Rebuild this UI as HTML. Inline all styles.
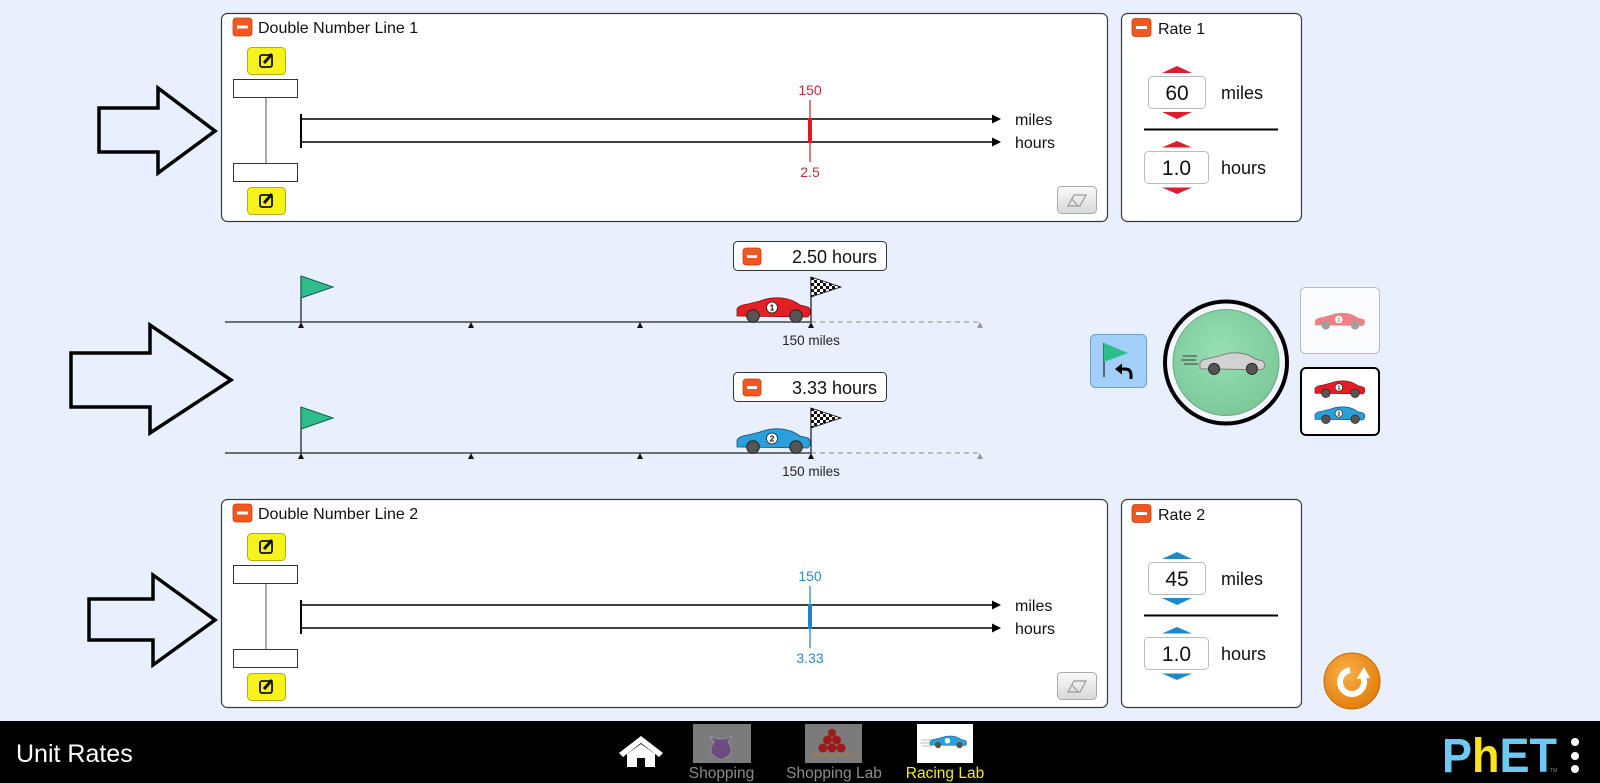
<!DOCTYPE html>
<html><head><meta charset="utf-8"><style>
html,body{margin:0;padding:0;width:1600px;height:783px;overflow:hidden;background:#e8f0fd}
svg{display:block}
text{font-family:"Liberation Sans",Arial,sans-serif}
</style></head><body>
<svg width="1600" height="783" viewBox="0 0 1600 783" xmlns="http://www.w3.org/2000/svg">
<defs>
<pattern id="chk" x="811" y="277" width="6" height="6" patternUnits="userSpaceOnUse">
<rect width="6" height="6" fill="#fff"/><rect width="3" height="3" fill="#111"/><rect x="3" y="3" width="3" height="3" fill="#111"/>
</pattern>
<radialGradient id="grn" cx="45%" cy="40%" r="60%"><stop offset="0" stop-color="#97dfb3"/><stop offset="1" stop-color="#7cc99a"/></radialGradient>
<radialGradient id="org" cx="40%" cy="35%" r="65%"><stop offset="0" stop-color="#f9b04a"/><stop offset="1" stop-color="#e47f0c"/></radialGradient>
<linearGradient id="ers" x1="0" y1="0" x2="0" y2="1"><stop offset="0" stop-color="#fafafa"/><stop offset="1" stop-color="#d8d8d8"/></linearGradient>
</defs>
<rect width="1600" height="783" fill="#e8f0fd"/>

<!-- arrows -->
<g fill="none" stroke="#000" stroke-width="3.5" stroke-linejoin="miter">
<polygon points="99,108 158,108 158,88 215,131 158,173 158,152 99,152"/>
<polygon points="71,353 150,353 150,325 231,380 150,433 150,407 71,407"/>
<polygon points="89,599 153,599 153,575 215,620 153,665 153,640 89,640"/>
</g>

<!-- DNL 1 -->
<g id="dnl1">
<rect x="221.5" y="13.5" width="886" height="208" rx="6" fill="#fff" stroke="#3a3a3a" stroke-width="1.2"/>
<rect x="233" y="18" width="19" height="18" rx="3" fill="#f1581f" stroke="#c04010" stroke-width="0.8"/><rect x="237" y="25.5" width="11" height="3" fill="#fff"/>
<text x="258" y="33" font-size="16" fill="#111">Double Number Line 1</text>
<g transform="translate(247,47)"><rect x="0.5" y="0.5" width="38" height="27" rx="4" fill="#f7f21c" stroke="#b5ae10"/><rect x="13" y="8" width="12" height="12" rx="2" fill="none" stroke="#111" stroke-width="1.8"/><line x1="17" y1="16" x2="25" y2="7" stroke="#111" stroke-width="3"/></g>
<g transform="translate(247,187)"><rect x="0.5" y="0.5" width="38" height="27" rx="4" fill="#f7f21c" stroke="#b5ae10"/><rect x="13" y="8" width="12" height="12" rx="2" fill="none" stroke="#111" stroke-width="1.8"/><line x1="17" y1="16" x2="25" y2="7" stroke="#111" stroke-width="3"/></g>
<rect x="233.5" y="79.5" width="64" height="18" fill="#fff" stroke="#333"/>
<rect x="233.5" y="163.5" width="64" height="18" fill="#fff" stroke="#333"/>
<line x1="266" y1="98" x2="266" y2="163" stroke="#555"/>
<line x1="301" y1="114" x2="301" y2="148" stroke="#000" stroke-width="2"/>
<line x1="301" y1="119" x2="993" y2="119" stroke="#000" stroke-width="1.6"/><polygon points="992,114.5 1001,119 992,123.5" fill="#000"/>
<line x1="301" y1="142" x2="993" y2="142" stroke="#000" stroke-width="1.6"/><polygon points="992,137.5 1001,142 992,146.5" fill="#000"/>
<text x="1015" y="125" font-size="16" fill="#111">miles</text>
<text x="1015" y="148" font-size="16" fill="#111">hours</text>
<line x1="810" y1="100" x2="810" y2="162" stroke="#c8323c" stroke-width="1.3"/>
<rect x="808" y="118" width="4" height="25" fill="#e8141e"/>
<text x="810" y="95" font-size="14" fill="#c0303c" text-anchor="middle">150</text>
<text x="810" y="177" font-size="14" fill="#c0303c" text-anchor="middle">2.5</text>
<rect x="1057.5" y="186.5" width="39" height="27" rx="4" fill="url(#ers)" stroke="#aaa"/>
<polygon points="1068,206 1074,195 1086,195 1080,206" fill="none" stroke="#999" stroke-width="1.2"/><line x1="1072" y1="199" x2="1078" y2="206" stroke="#999"/>
</g>

<!-- Rate 1 -->
<g>
<rect x="1121.5" y="13.5" width="180" height="208" rx="6" fill="#fff" stroke="#3a3a3a" stroke-width="1.2"/>
<rect x="1132" y="18.5" width="19" height="18" rx="3" fill="#f1581f" stroke="#c04010" stroke-width="0.8"/><rect x="1136" y="26" width="11" height="3" fill="#fff"/>
<text x="1158" y="34" font-size="16" fill="#111">Rate 1</text>
<polygon points="1162,73 1177,66 1192,73" fill="#d9202f"/>
<rect x="1148.5" y="76.5" width="57" height="32" rx="4" fill="#fff" stroke="#bbb"/>
<text x="1177" y="100" font-size="21" text-anchor="middle" fill="#111">60</text>
<polygon points="1162,112 1192,112 1177,119" fill="#d9202f"/>
<text x="1221" y="99" font-size="18" fill="#111">miles</text>
<line x1="1144" y1="129.5" x2="1278" y2="129.5" stroke="#000" stroke-width="2"/>
<polygon points="1162,147.5 1177,141 1192,147.5" fill="#d9202f"/>
<rect x="1144.5" y="151.5" width="64" height="32" rx="4" fill="#fff" stroke="#bbb"/>
<text x="1176.5" y="175" font-size="21" text-anchor="middle" fill="#111">1.0</text>
<polygon points="1162,187.5 1192,187.5 1177,194" fill="#d9202f"/>
<text x="1221" y="174" font-size="18" fill="#111">hours</text>
</g>

<!-- Race track 1 -->
<g>
<line x1="225" y1="322" x2="811" y2="322" stroke="#444" stroke-width="1.5"/>
<line x1="811" y1="322" x2="980" y2="322" stroke="#aaa" stroke-width="1.5" stroke-dasharray="5,4"/>
<g fill="#111"><polygon points="298,328 301,322 304,328"/><polygon points="468,328 471,322 474,328"/><polygon points="637,328 640,322 643,328"/><polygon points="808,328 811,322 814,328"/></g>
<polygon points="977,328 980,322 983,328" fill="#999"/>
<line x1="301" y1="276" x2="301" y2="322" stroke="#222" stroke-width="1.3"/>
<polygon points="301,276 333,287 301,298" fill="#2dbd8e" stroke="#1a5c45"/>
<rect x="733.5" y="241.5" width="153" height="29" rx="4" fill="#fff" stroke="#333"/>
<rect x="743" y="248" width="18" height="17" rx="3" fill="#f1581f" stroke="#c04010" stroke-width="0.8"/><rect x="747" y="255" width="10" height="3" fill="#fff"/>
<text x="877" y="263" font-size="18" text-anchor="end" fill="#111">2.50 hours</text>
<line x1="811" y1="277" x2="811" y2="322" stroke="#222" stroke-width="1.3"/>
<polygon points="811,277 841,287 811,297" fill="url(#chk)" stroke="#111" stroke-width="0.8"/>
<g transform="translate(737,298)">
<path d="M0,18 L0,11 Q2,7 11,6 L23,3 Q33,-1 45,0 Q55,1 63,7 L71,9 Q74,11 73,16 L71,19 Z" fill="#e31e24" stroke="#8a0f12" stroke-width="0.8"/>
<circle cx="16" cy="18" r="6.3" fill="#555" stroke="#222"/><circle cx="59" cy="18" r="6.3" fill="#555" stroke="#222"/>
<circle cx="35" cy="9.5" r="5.5" fill="#fff" stroke="#222" stroke-width="0.8"/><text x="35" y="12.5" font-size="8.5" font-weight="bold" text-anchor="middle" fill="#111">1</text>
</g>
<text x="811" y="345" font-size="13.5" text-anchor="middle" fill="#222">150 miles</text>
</g>

<!-- Race track 2 -->
<g transform="translate(0,131)">
<line x1="225" y1="322" x2="811" y2="322" stroke="#444" stroke-width="1.5"/>
<line x1="811" y1="322" x2="980" y2="322" stroke="#aaa" stroke-width="1.5" stroke-dasharray="5,4"/>
<g fill="#111"><polygon points="298,328 301,322 304,328"/><polygon points="468,328 471,322 474,328"/><polygon points="637,328 640,322 643,328"/><polygon points="808,328 811,322 814,328"/></g>
<polygon points="977,328 980,322 983,328" fill="#999"/>
<line x1="301" y1="276" x2="301" y2="322" stroke="#222" stroke-width="1.3"/>
<polygon points="301,276 333,287 301,298" fill="#2dbd8e" stroke="#1a5c45"/>
<rect x="733.5" y="241.5" width="153" height="29" rx="4" fill="#fff" stroke="#333"/>
<rect x="743" y="248" width="18" height="17" rx="3" fill="#f1581f" stroke="#c04010" stroke-width="0.8"/><rect x="747" y="255" width="10" height="3" fill="#fff"/>
<text x="877" y="263" font-size="18" text-anchor="end" fill="#111">3.33 hours</text>
<line x1="811" y1="277" x2="811" y2="322" stroke="#222" stroke-width="1.3"/>
<polygon points="811,277 841,287 811,297" fill="url(#chk)" stroke="#111" stroke-width="0.8"/>
<g transform="translate(737,298)">
<path d="M0,18 L0,11 Q2,7 11,6 L23,3 Q33,-1 45,0 Q55,1 63,7 L71,9 Q74,11 73,16 L71,19 Z" fill="#2b9fd9" stroke="#13507a" stroke-width="0.8"/>
<circle cx="16" cy="18" r="6.3" fill="#555" stroke="#222"/><circle cx="59" cy="18" r="6.3" fill="#555" stroke="#222"/>
<circle cx="35" cy="9.5" r="5.5" fill="#fff" stroke="#222" stroke-width="0.8"/><text x="35" y="12.5" font-size="8.5" font-weight="bold" text-anchor="middle" fill="#111">2</text>
</g>
<text x="811" y="345" font-size="13.5" text-anchor="middle" fill="#222">150 miles</text>
</g>

<!-- right controls -->
<rect x="1090.5" y="334.5" width="56" height="53" rx="5" fill="#a3d0fa" stroke="#6e9fcc"/>
<line x1="1104" y1="343" x2="1104" y2="377" stroke="#222" stroke-width="1.2"/>
<polygon points="1104,343 1128,353 1104,362" fill="#2dbd8e"/>
<path d="M1131,379 L1131,375 Q1131,369 1125,369 L1121,369" fill="none" stroke="#000" stroke-width="3"/>
<polygon points="1115,369 1122,363.5 1122,374.5" fill="#000"/>

<circle cx="1226" cy="362.5" r="61" fill="#f2f6fb" stroke="#000" stroke-width="4"/>
<circle cx="1226" cy="362.5" r="53" fill="url(#grn)" stroke="#6aa888"/>
<g stroke="#5b6b60" stroke-width="1.5"><line x1="1183" y1="356" x2="1197" y2="356"/><line x1="1181" y1="360" x2="1196" y2="360"/><line x1="1184" y1="364" x2="1198" y2="364"/></g>
<g transform="translate(1200,353) scale(0.88)">
<path d="M0,18 L0,11 Q2,7 11,6 L23,3 Q33,-1 45,0 Q55,1 63,7 L71,9 Q74,11 73,16 L71,19 Z" fill="#d2d2d2" stroke="#777" stroke-width="1"/>
<circle cx="16" cy="18" r="6.3" fill="#555" stroke="#222"/><circle cx="59" cy="18" r="6.3" fill="#555" stroke="#222"/>
</g>

<rect x="1300.5" y="287.5" width="79" height="66" rx="5" fill="#f9fbfd" stroke="#bbb"/>
<g transform="translate(1315,313) scale(0.68)" opacity="0.55">
<path d="M0,18 L0,11 Q2,7 11,6 L23,3 Q33,-1 45,0 Q55,1 63,7 L71,9 Q74,11 73,16 L71,19 Z" fill="#e31e24"/>
<circle cx="16" cy="18" r="6.3" fill="#555"/><circle cx="59" cy="18" r="6.3" fill="#555"/>
<circle cx="35" cy="9.5" r="5.5" fill="#fff"/><text x="35" y="12.5" font-size="8.5" font-weight="bold" text-anchor="middle" fill="#111">1</text>
</g>
<rect x="1301" y="368" width="78" height="67" rx="5" fill="#fff" stroke="#000" stroke-width="2"/>
<g transform="translate(1315,381) scale(0.68)">
<path d="M0,18 L0,11 Q2,7 11,6 L23,3 Q33,-1 45,0 Q55,1 63,7 L71,9 Q74,11 73,16 L71,19 Z" fill="#e31e24" stroke="#8a0f12"/>
<circle cx="16" cy="18" r="6.3" fill="#555" stroke="#222"/><circle cx="59" cy="18" r="6.3" fill="#555" stroke="#222"/>
<circle cx="35" cy="9.5" r="5.5" fill="#fff" stroke="#222"/><text x="35" y="12.5" font-size="8.5" font-weight="bold" text-anchor="middle" fill="#111">1</text>
</g>
<g transform="translate(1315,407) scale(0.68)">
<path d="M0,18 L0,11 Q2,7 11,6 L23,3 Q33,-1 45,0 Q55,1 63,7 L71,9 Q74,11 73,16 L71,19 Z" fill="#2b9fd9" stroke="#13507a"/>
<circle cx="16" cy="18" r="6.3" fill="#555" stroke="#222"/><circle cx="59" cy="18" r="6.3" fill="#555" stroke="#222"/>
<circle cx="35" cy="9.5" r="5.5" fill="#fff" stroke="#222"/><text x="35" y="12.5" font-size="8.5" font-weight="bold" text-anchor="middle" fill="#111">2</text>
</g>

<!-- DNL 2 -->
<g transform="translate(0,486)">
<rect x="221.5" y="13.5" width="886" height="208" rx="6" fill="#fff" stroke="#3a3a3a" stroke-width="1.2"/>
<rect x="233" y="18" width="19" height="18" rx="3" fill="#f1581f" stroke="#c04010" stroke-width="0.8"/><rect x="237" y="25.5" width="11" height="3" fill="#fff"/>
<text x="258" y="33" font-size="16" fill="#111">Double Number Line 2</text>
<g transform="translate(247,47)"><rect x="0.5" y="0.5" width="38" height="27" rx="4" fill="#f7f21c" stroke="#b5ae10"/><rect x="13" y="8" width="12" height="12" rx="2" fill="none" stroke="#111" stroke-width="1.8"/><line x1="17" y1="16" x2="25" y2="7" stroke="#111" stroke-width="3"/></g>
<g transform="translate(247,187)"><rect x="0.5" y="0.5" width="38" height="27" rx="4" fill="#f7f21c" stroke="#b5ae10"/><rect x="13" y="8" width="12" height="12" rx="2" fill="none" stroke="#111" stroke-width="1.8"/><line x1="17" y1="16" x2="25" y2="7" stroke="#111" stroke-width="3"/></g>
<rect x="233.5" y="79.5" width="64" height="18" fill="#fff" stroke="#333"/>
<rect x="233.5" y="163.5" width="64" height="18" fill="#fff" stroke="#333"/>
<line x1="266" y1="98" x2="266" y2="163" stroke="#555"/>
<line x1="301" y1="114" x2="301" y2="148" stroke="#000" stroke-width="2"/>
<line x1="301" y1="119" x2="993" y2="119" stroke="#000" stroke-width="1.6"/><polygon points="992,114.5 1001,119 992,123.5" fill="#000"/>
<line x1="301" y1="142" x2="993" y2="142" stroke="#000" stroke-width="1.6"/><polygon points="992,137.5 1001,142 992,146.5" fill="#000"/>
<text x="1015" y="125" font-size="16" fill="#111">miles</text>
<text x="1015" y="148" font-size="16" fill="#111">hours</text>
<line x1="810" y1="100" x2="810" y2="162" stroke="#2a8cc4" stroke-width="1.3"/>
<rect x="808" y="118" width="4" height="25" fill="#1a86d0"/>
<text x="810" y="95" font-size="14" fill="#2a8cc4" text-anchor="middle">150</text>
<text x="810" y="177" font-size="14" fill="#2a8cc4" text-anchor="middle">3.33</text>
<rect x="1057.5" y="186.5" width="39" height="27" rx="4" fill="url(#ers)" stroke="#aaa"/>
<polygon points="1068,206 1074,195 1086,195 1080,206" fill="none" stroke="#999" stroke-width="1.2"/><line x1="1072" y1="199" x2="1078" y2="206" stroke="#999"/>
</g>

<!-- Rate 2 -->
<g transform="translate(0,486)">
<rect x="1121.5" y="13.5" width="180" height="208" rx="6" fill="#fff" stroke="#3a3a3a" stroke-width="1.2"/>
<rect x="1132" y="18.5" width="19" height="18" rx="3" fill="#f1581f" stroke="#c04010" stroke-width="0.8"/><rect x="1136" y="26" width="11" height="3" fill="#fff"/>
<text x="1158" y="34" font-size="16" fill="#111">Rate 2</text>
<polygon points="1162,73 1177,66 1192,73" fill="#1e88c8"/>
<rect x="1148.5" y="76.5" width="57" height="32" rx="4" fill="#fff" stroke="#bbb"/>
<text x="1177" y="100" font-size="21" text-anchor="middle" fill="#111">45</text>
<polygon points="1162,112 1192,112 1177,119" fill="#1e88c8"/>
<text x="1221" y="99" font-size="18" fill="#111">miles</text>
<line x1="1144" y1="129.5" x2="1278" y2="129.5" stroke="#000" stroke-width="2"/>
<polygon points="1162,147.5 1177,141 1192,147.5" fill="#1e88c8"/>
<rect x="1144.5" y="151.5" width="64" height="32" rx="4" fill="#fff" stroke="#bbb"/>
<text x="1176.5" y="175" font-size="21" text-anchor="middle" fill="#111">1.0</text>
<polygon points="1162,187.5 1192,187.5 1177,194" fill="#1e88c8"/>
<text x="1221" y="174" font-size="18" fill="#111">hours</text>
</g>

<!-- reset -->
<circle cx="1352" cy="681" r="28" fill="url(#org)" stroke="#c06a00"/>
<path d="M1349.9,670.2 A12,12 0 1,0 1363.3,677.9" fill="none" stroke="#fff" stroke-width="6"/>
<polygon points="1356.5,679 1370,678 1364,667" fill="#fff"/>

<!-- bottom bar -->
<rect x="0" y="721" width="1600" height="62" fill="#000"/>
<text x="16" y="762" font-size="25" fill="#fff">Unit Rates</text>
<g fill="#fff">
<polygon points="619,753 641,736 663,753 659,757 641,743 623,757"/>
<polygon points="627,754 641,744 655,754 655,767 645,767 645,758 637,758 637,767 627,767"/>
</g>
<rect x="693" y="724" width="58" height="39" fill="#7b7b7b"/>
<path d="M710,736 Q721,742 732,736 L728,742 Q737,754 721,760 Q705,754 714,742 Z" fill="#6b4d82" stroke="#999" stroke-width="0.8"/>
<text x="721.5" y="778" font-size="15.5" text-anchor="middle" fill="#8c8c8c">Shopping</text>
<rect x="805" y="724" width="57" height="39" fill="#7b7b7b"/>
<rect x="810" y="753" width="47" height="4" fill="#8f7a66"/>
<g fill="#9e1a1a"><circle cx="823" cy="748" r="4.5"/><circle cx="832" cy="748" r="4.5"/><circle cx="841" cy="748" r="4.5"/><circle cx="827.5" cy="740" r="4.5"/><circle cx="836.5" cy="740" r="4.5"/><circle cx="832" cy="733" r="4"/></g>
<text x="834" y="778" font-size="15.5" text-anchor="middle" fill="#8c8c8c">Shopping Lab</text>
<rect x="917" y="724" width="56" height="39" fill="#fff"/>
<g stroke="#bbb" stroke-width="1"><line x1="921" y1="740" x2="931" y2="740"/><line x1="920" y1="743" x2="931" y2="743"/><line x1="922" y1="746" x2="932" y2="746"/></g>
<g transform="translate(930,736) scale(0.5)">
<path d="M0,18 L0,11 Q2,7 11,6 L23,3 Q33,-1 45,0 Q55,1 63,7 L71,9 Q74,11 73,16 L71,19 Z" fill="#2b9fd9" stroke="#13507a"/>
<circle cx="16" cy="18" r="6.3" fill="#555"/><circle cx="59" cy="18" r="6.3" fill="#555"/>
<circle cx="35" cy="9.5" r="5.5" fill="#fff"/>
</g>
<text x="945" y="778" font-size="15.5" text-anchor="middle" fill="#f2e829">Racing Lab</text>

<text x="1442" y="772" font-size="48" font-weight="bold" textLength="115" lengthAdjust="spacingAndGlyphs" fill="#6ccaf2">P<tspan fill="#fce31c">h</tspan>ET</text>
<text x="1550" y="772" font-size="5" fill="#888">TM</text>
<g fill="#fff"><circle cx="1575" cy="742" r="4"/><circle cx="1575" cy="756" r="4"/><circle cx="1575" cy="769" r="4"/></g>
</svg>
</body></html>
